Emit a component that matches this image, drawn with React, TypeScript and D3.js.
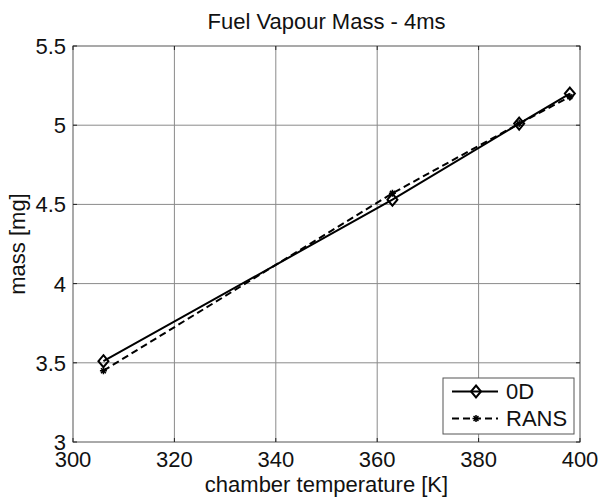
import { useEffect, useRef } from 'react';
import * as d3 from 'd3';

const temps = [306, 363, 388, 398];
const massOD = [3.51, 4.53, 5.01, 5.2];
const massRANS = [3.45, 4.57, 5.01, 5.18];
const xTicks = [300, 320, 340, 360, 380, 400];
const yTicks = [3, 3.5, 4, 4.5, 5, 5.5];
const seriesNames = ['0D', 'RANS'];

const W = 603;
const H = 497;

export default function App() {
  const svgRef = useRef<SVGSVGElement>(null);

  useEffect(() => {
    if (!svgRef.current) return;
    const svg = d3.select(svgRef.current);
    svg.selectAll('*').remove();

    const margin = { top: 46, right: 23, bottom: 55, left: 73 };
    const innerW = W - margin.left - margin.right;
    const innerH = H - margin.top - margin.bottom;
    const font = "'Liberation Sans', Arial, sans-serif";
    const axisColor = '#555';
    const gridColor = '#8a8a8a';

    const x = d3.scaleLinear().domain([300, 400]).range([0, innerW]);
    const y = d3.scaleLinear().domain([3, 5.5]).range([innerH, 0]);

    svg.append('rect').attr('width', W).attr('height', H).attr('fill', '#fff');

    const g = svg.append('g').attr('transform', `translate(${margin.left},${margin.top})`);

    // grid
    g.selectAll('.vgrid')
      .data(xTicks.slice(1, -1))
      .enter()
      .append('line')
      .attr('x1', d => x(d)).attr('x2', d => x(d))
      .attr('y1', 0).attr('y2', innerH)
      .attr('stroke', gridColor).attr('stroke-width', 1);

    g.selectAll('.hgrid')
      .data(yTicks.slice(1, -1))
      .enter()
      .append('line')
      .attr('y1', d => y(d)).attr('y2', d => y(d))
      .attr('x1', 0).attr('x2', innerW)
      .attr('stroke', gridColor).attr('stroke-width', 1);

    // box
    g.append('rect')
      .attr('width', innerW).attr('height', innerH)
      .attr('fill', 'none').attr('stroke', axisColor).attr('stroke-width', 1);

    // inward ticks on all four sides
    const tk = 4;
    xTicks.forEach(t => {
      g.append('line').attr('x1', x(t)).attr('x2', x(t)).attr('y1', innerH).attr('y2', innerH - tk).attr('stroke', '#222');
      g.append('line').attr('x1', x(t)).attr('x2', x(t)).attr('y1', 0).attr('y2', tk).attr('stroke', '#222');
    });
    yTicks.forEach(t => {
      g.append('line').attr('y1', y(t)).attr('y2', y(t)).attr('x1', 0).attr('x2', tk).attr('stroke', '#222');
      g.append('line').attr('y1', y(t)).attr('y2', y(t)).attr('x1', innerW).attr('x2', innerW - tk).attr('stroke', '#222');
    });

    // tick labels
    g.selectAll('.xl')
      .data(xTicks)
      .enter()
      .append('text')
      .attr('x', d => x(d))
      .attr('y', innerH + 25)
      .attr('text-anchor', 'middle')
      .style('font-family', font).style('font-size', '22px')
      .attr('fill', '#111')
      .text(d => String(d));

    g.selectAll('.yl')
      .data(yTicks)
      .enter()
      .append('text')
      .attr('x', -7)
      .attr('y', d => y(d))
      .attr('dy', '0.36em')
      .attr('text-anchor', 'end')
      .style('font-family', font).style('font-size', '22px')
      .attr('fill', '#111')
      .text(d => String(d));

    // titles
    svg.append('text')
      .attr('x', margin.left + innerW / 2).attr('y', 29)
      .attr('text-anchor', 'middle')
      .style('font-family', font).style('font-size', '22px')
      .attr('fill', '#111')
      .text('Fuel Vapour Mass - 4ms');

    svg.append('text')
      .attr('x', margin.left + innerW / 2).attr('y', 492)
      .attr('text-anchor', 'middle')
      .style('font-family', font).style('font-size', '22px')
      .attr('fill', '#111')
      .text('chamber temperature [K]');

    svg.append('text')
      .attr('transform', `translate(25,${margin.top + innerH / 2}) rotate(-90)`)
      .attr('text-anchor', 'middle')
      .style('font-family', font).style('font-size', '22px')
      .attr('fill', '#111')
      .text('mass [mg]');

    const line = d3.line<number>().x((_, i) => x(temps[i])).y(d => y(d));

    // RANS
    g.append('path')
      .attr('d', line(massRANS))
      .attr('fill', 'none').attr('stroke', '#000').attr('stroke-width', 2)
      .attr('stroke-dasharray', '7,4');

    const star = (sel: d3.Selection<SVGGElement, unknown, null, undefined>, cx: number, cy: number) => {
      const s = 3.5;
      sel.append('path')
        .attr('d', `M${cx - s},${cy}L${cx + s},${cy}M${cx},${cy - s}L${cx},${cy + s}M${cx - s * 0.7},${cy - s * 0.7}L${cx + s * 0.7},${cy + s * 0.7}M${cx - s * 0.7},${cy + s * 0.7}L${cx + s * 0.7},${cy - s * 0.7}`)
        .attr('stroke', '#000').attr('stroke-width', 1.5).attr('fill', 'none');
    };
    const diamond = (sel: d3.Selection<SVGGElement, unknown, null, undefined>, cx: number, cy: number) => {
      sel.append('path')
        .attr('d', `M${cx},${cy - 6}L${cx + 5},${cy}L${cx},${cy + 6}L${cx - 5},${cy}Z`)
        .attr('stroke', '#000').attr('stroke-width', 2).attr('fill', 'none');
    };

    massRANS.forEach((m, i) => star(g as any, x(temps[i]), y(m)));

    // 0D
    g.append('path')
      .attr('d', line(massOD))
      .attr('fill', 'none').attr('stroke', '#000').attr('stroke-width', 2);
    massOD.forEach((m, i) => diamond(g as any, x(temps[i]), y(m)));

    // legend
    const lg = svg.append('g');
    lg.append('rect')
      .attr('x', 443).attr('y', 378).attr('width', 131).attr('height', 56)
      .attr('fill', '#fff').attr('stroke', axisColor).attr('stroke-width', 1);
    const rows = [391.5, 418.5];
    seriesNames.forEach((name, i) => {
      const ry = rows[i];
      lg.append('line')
        .attr('x1', 452).attr('x2', 498).attr('y1', ry).attr('y2', ry)
        .attr('stroke', '#000').attr('stroke-width', 2)
        .attr('stroke-dasharray', i === 1 ? '7,4' : null);
      if (i === 0) diamond(lg as any, 476, ry);
      else star(lg as any, 476, ry);
      lg.append('text')
        .attr('x', 506).attr('y', ry).attr('dy', '0.36em')
        .style('font-family', font).style('font-size', '22px')
        .attr('fill', '#111')
        .text(name);
    });
  }, []);

  return (
    <svg
      ref={svgRef}
      width={W}
      height={H}
      style={{ position: 'absolute', left: 0, top: 0 }}
    />
  );
}
